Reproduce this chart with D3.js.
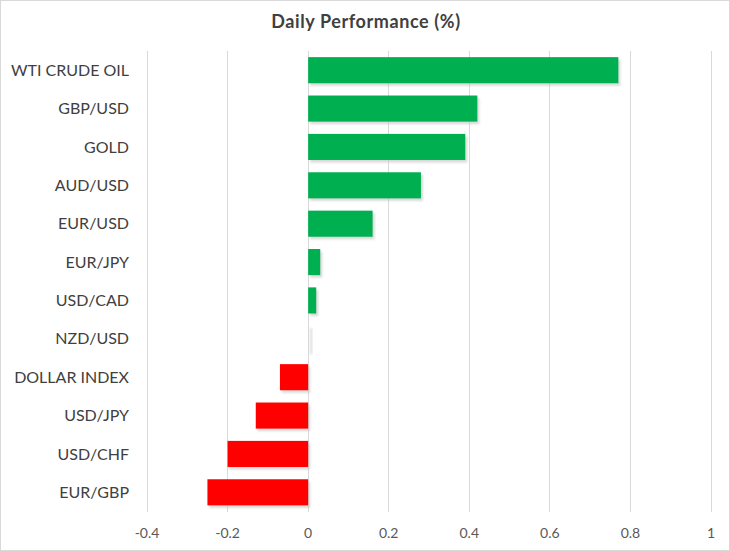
<!DOCTYPE html>
<html>
<head>
<meta charset="utf-8">
<script src="https://cdn.jsdelivr.net/npm/d3@7"></script>
<style>
  html, body { margin: 0; padding: 0; background: #fff; }
  svg { display: block; }
  text { font-family: "Lato", "Open Sans", sans-serif; }
</style>
</head>
<body>
<script>
// ---- data ----
const categories = ["WTI CRUDE OIL", "GBP/USD", "GOLD", "AUD/USD", "EUR/USD", "EUR/JPY",
                    "USD/CAD", "NZD/USD", "DOLLAR INDEX", "USD/JPY", "USD/CHF", "EUR/GBP"];
const values = [0.77, 0.42, 0.39, 0.28, 0.16, 0.03, 0.02, 0.00, -0.07, -0.13, -0.20, -0.25];
const xTicks = [-0.4, -0.2, 0, 0.2, 0.4, 0.6, 0.8, 1];
const titleText = "Daily Performance (%)";

// ---- layout ----
const W = 730, H = 551;
const svg = d3.select("body").append("svg").attr("width", W).attr("height", H);

svg.append("rect").attr("x", 0.5).attr("y", 0.5).attr("width", W - 1).attr("height", H - 1)
  .attr("fill", "#fff").attr("stroke", "#d9d9d9");

const x = d3.scaleLinear().domain([-0.4, 1]).range([147, 711]);
const y = d3.scaleBand().domain(categories).range([51, 511.5]).paddingInner(0.32).paddingOuter(0.16);

// gridlines
svg.append("g").selectAll("line").data(xTicks).join("line")
  .attr("x1", d => x(d)).attr("x2", d => x(d))
  .attr("y1", 51).attr("y2", 511.5)
  .attr("stroke", "#d9d9d9").attr("stroke-width", 1)
  .attr("shape-rendering", "crispEdges");

// shadow filter
const defs = svg.append("defs");
const f = defs.append("filter").attr("id", "blur").attr("x", "-20%").attr("y", "-50%")
  .attr("width", "140%").attr("height", "200%");
f.append("feGaussianBlur").attr("stdDeviation", 1.2);

const data = categories.map((c, i) => ({ c, v: values[i] }));

// shadows
svg.append("g").selectAll("rect").data(data).join("rect")
  .attr("x", d => Math.min(x(0), x(d.v)) + 2)
  .attr("y", d => y(d.c) + 2.5)
  .attr("width", d => Math.max(2, Math.abs(x(d.v) - x(0))))
  .attr("height", y.bandwidth())
  .attr("fill", "#bfbfbf")
  .attr("opacity", 0.6)
  .attr("filter", "url(#blur)");

// bars
svg.append("g").selectAll("rect").data(data).join("rect")
  .attr("x", d => Math.min(x(0), x(d.v)))
  .attr("y", d => y(d.c))
  .attr("width", d => Math.abs(x(d.v) - x(0)))
  .attr("height", y.bandwidth())
  .attr("fill", d => d.v >= 0 ? "#00b050" : "#ff0000");

// category labels
svg.append("g").selectAll("text").data(categories).join("text")
  .attr("x", 129)
  .attr("y", d => y(d) + y.bandwidth() / 2)
  .attr("dy", "0.35em")
  .attr("text-anchor", "end")
  .attr("font-size", 16)
  .attr("fill", "#404040")
  .text(d => d);

// x-axis tick labels
svg.append("g").selectAll("text").data(xTicks).join("text")
  .attr("x", d => x(d))
  .attr("y", 533)
  .attr("dy", "0.35em")
  .attr("text-anchor", "middle")
  .attr("font-size", 14)
  .attr("fill", "#595959")
  .text(d => d3.format("")(d).replace("−", "-"));

// title
svg.append("text")
  .attr("x", 366).attr("y", 22).attr("dy", "0.35em")
  .attr("text-anchor", "middle")
  .attr("font-size", 18)
  .attr("letter-spacing", 0.6)
  .attr("font-weight", "bold")
  .attr("fill", "#404040")
  .text(titleText);
</script>
</body>
</html>
